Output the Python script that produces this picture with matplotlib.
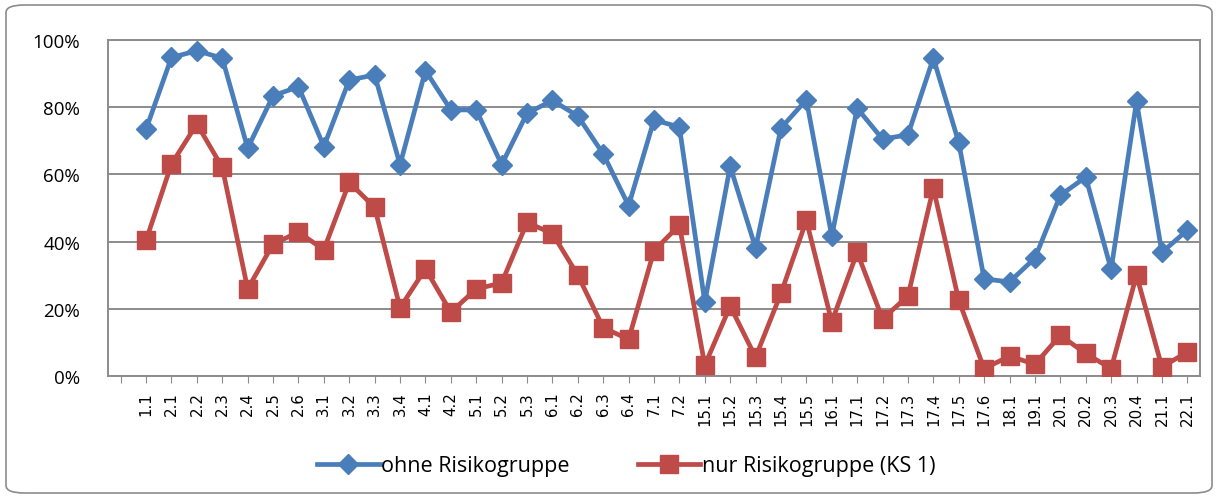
import numpy as np
import matplotlib.pyplot as plt
from matplotlib.patches import FancyBboxPatch
from matplotlib.ticker import PercentFormatter

# data (percent)
categories = ['1.1', '2.1', '2.2', '2.3', '2.4', '2.5', '2.6', '3.1', '3.2', '3.3',
              '3.4', '4.1', '4.2', '5.1', '5.2', '5.3', '6.1', '6.2', '6.3', '6.4',
              '7.1', '7.2', '15.1', '15.2', '15.3', '15.4', '15.5', '16.1', '17.1', '17.2',
              '17.3', '17.4', '17.5', '17.6', '18.1', '19.1', '20.1', '20.2', '20.3', '20.4',
              '21.1', '22.1']

ohne = [73.5, 94.8, 96.8, 94.6, 67.8, 83.4, 86.1, 68.3, 88.1, 89.6,
        62.9, 90.9, 79.2, 79.2, 62.9, 78.2, 82.0, 77.4, 66.1, 50.7,
        76.2, 74.1, 22.0, 62.4, 38.1, 73.8, 82.2, 41.6, 79.7, 70.5,
        71.8, 94.6, 69.5, 28.9, 28.0, 35.1, 53.8, 59.2, 31.7, 81.7,
        36.8, 43.4]

nur = [40.4, 63.1, 75.0, 62.1, 25.9, 39.3, 42.8, 37.6, 57.6, 50.2,
       20.3, 31.9, 19.0, 25.9, 27.7, 45.7, 42.4, 30.0, 14.4, 10.9,
       37.3, 44.9, 3.2, 20.8, 5.6, 24.6, 46.3, 16.1, 36.8, 17.0,
       23.8, 55.9, 22.5, 2.2, 5.9, 3.5, 12.1, 6.7, 2.2, 30.0,
       2.7, 7.1]

blue = '#4A7EBB'
red = '#BE4B48'
grid_col = '#8C8C8C'

plt.rcParams['font.family'] = ['Open Sans', 'DejaVu Sans']

fig = plt.figure(figsize=(12.18, 5.02), dpi=100)
ax = fig.add_axes([108 / 1218, 1 - 377 / 502, 1092 / 1218, 336 / 502])

x = np.arange(1, len(categories) + 1)
ax.plot(x, ohne, color=blue, linewidth=3.4, marker='D', markersize=10,
        label='ohne Risikogruppe', zorder=3)
ax.plot(x, nur, color=red, linewidth=3.4, marker='s', markersize=13,
        label='nur Risikogruppe (KS 1)', zorder=3)

ax.set_xlim(-0.5, len(categories) + 0.5)
ax.set_ylim(0, 100)
ax.yaxis.set_major_formatter(PercentFormatter(decimals=0))
ax.set_yticks(np.arange(0, 101, 20))
ax.grid(axis='y', color=grid_col, linewidth=1.4)
ax.set_axisbelow(True)

ax.set_xticks(np.arange(0, len(categories) + 1))
ax.set_xticklabels([''] + categories, rotation=90, fontsize=10.8,
                   family=['DejaVu Sans'])
ax.tick_params(axis='x', length=5, color=grid_col, pad=6)
ax.tick_params(axis='y', length=0, labelsize=13.5, pad=20)

for side in ['left', 'right', 'top', 'bottom']:
    ax.spines[side].set_color(grid_col)
    ax.spines[side].set_linewidth(1.4)

leg = fig.legend(loc='center', bbox_to_anchor=(0.514, 1 - 467 / 502), ncol=2,
                 frameon=False, fontsize=15.5, handlelength=2.9,
                 columnspacing=3.2, handletextpad=0.05)

# rounded chart-area border
border = FancyBboxPatch((6 / 1218, 8 / 502), 1206 / 1218, 488 / 502,
                        boxstyle='round,pad=0,rounding_size=0.015',
                        transform=fig.transFigure, fill=False,
                        edgecolor='#8C8C8C', linewidth=1.2)
fig.patches.append(border)

fig.savefig('out.png', dpi=100)
